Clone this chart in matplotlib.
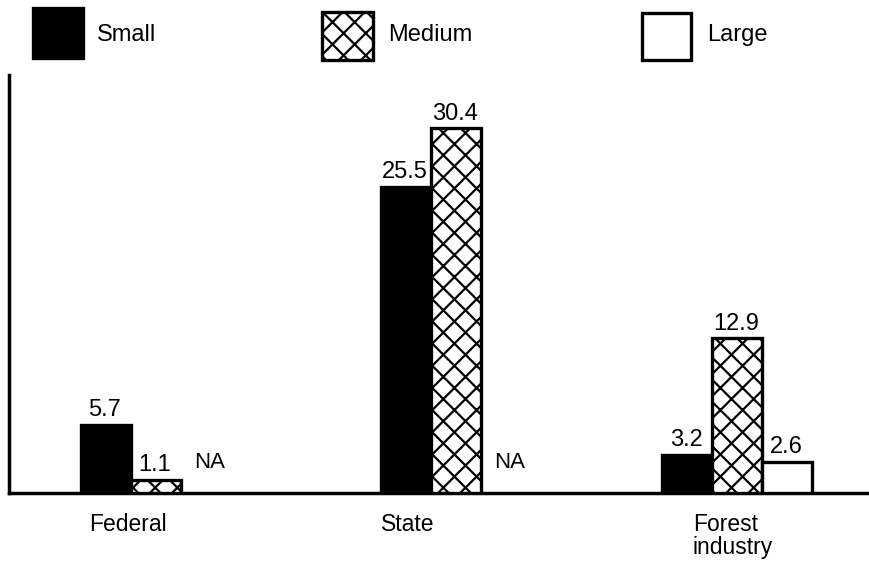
import matplotlib
matplotlib.use("Agg")
import matplotlib.pyplot as plt
from matplotlib.patches import Rectangle

DPI = 133
k = 100 / DPI  # keep sizes as if at 100 dpi

plt.rcParams['font.family'] = ['Liberation Sans', 'DejaVu Sans']
plt.rcParams['hatch.linewidth'] = 1.6 * k

# ---- data ----
categories = ["Federal", "State", "Forest\nindustry"]
series = ["Small", "Medium", "Large"]
small = [5.7, 25.5, 3.2]
medium = [1.1, 30.4, 12.9]
large = [None, None, 2.6]   # None = NA

# ---- layout (pixel-based) ----
W, H = 869, 563
fig = plt.figure(figsize=(W / DPI, H / DPI), dpi=DPI)

def fx(px):
    return px / W

def fy(py):
    return 1 - py / H

ax_left, ax_right, ax_top, ax_bottom = 9, 868, 75, 493
ax = fig.add_axes([fx(ax_left), fy(ax_bottom), fx(ax_right) - fx(ax_left), fy(ax_top) - fy(ax_bottom)])
px_per_unit = 12.0
ax.set_xlim(ax_left, ax_right)
ax.set_ylim(0, (ax_bottom - ax_top) / px_per_unit)

group_centers = [156, 456, 737]
offsets = [-50, 0, 50]
bar_w = 50
styles = [
    dict(facecolor="black", edgecolor="black", hatch=None),
    dict(facecolor="white", edgecolor="black", hatch="xx"),
    dict(facecolor="white", edgecolor="black", hatch=None),
]
all_vals = [small, medium, large]
for s, vals in enumerate(all_vals):
    for g, v in enumerate(vals):
        x = group_centers[g] + offsets[s]
        if v is None:
            ax.text(x + 4, 2.55, "NA", ha="center", va="center", fontsize=16 * k)
            continue
        ax.bar(x, v, width=bar_w, linewidth=2.4 * k, zorder=3, **styles[s])
        ax.text(x - 1, v + 0.3, f"{v}", ha="center", va="bottom", fontsize=17 * k)

# category labels
label_x = [128, 408, 693]
for i, (lab, lx) in enumerate(zip(categories, label_x)):
    ha = "left" if "\n" in lab else "center"
    fig.text(fx(lx), fy(513), lab, ha=ha, va="top", fontsize=16.5 * k,
             multialignment="left", linespacing=1.0)

ax.set_xticks([])
ax.set_yticks([])
for sp in ["top", "right"]:
    ax.spines[sp].set_visible(False)
ax.spines["left"].set_linewidth(2.5 * k)
ax.spines["bottom"].set_linewidth(2.5 * k)

# legend
leg_boxes = [(33, 8, 50, 50), (322, 12, 51, 48), (642, 13, 49, 47)]
leg_text_x = [97, 388, 707]
for s, ((lx, ly, lw, lh), tx) in enumerate(zip(leg_boxes, leg_text_x)):
    st = styles[s]
    r = Rectangle((fx(lx), fy(ly + lh)), fx(lw), lh / H, transform=fig.transFigure,
                  facecolor=st["facecolor"], edgecolor=st["edgecolor"], hatch=st["hatch"],
                  linewidth=2.4 * k)
    fig.patches.append(r)
    fig.text(fx(tx), fy(35), series[s], ha="left", va="center", fontsize=17 * k)

fig.savefig("out.png", dpi=DPI)
